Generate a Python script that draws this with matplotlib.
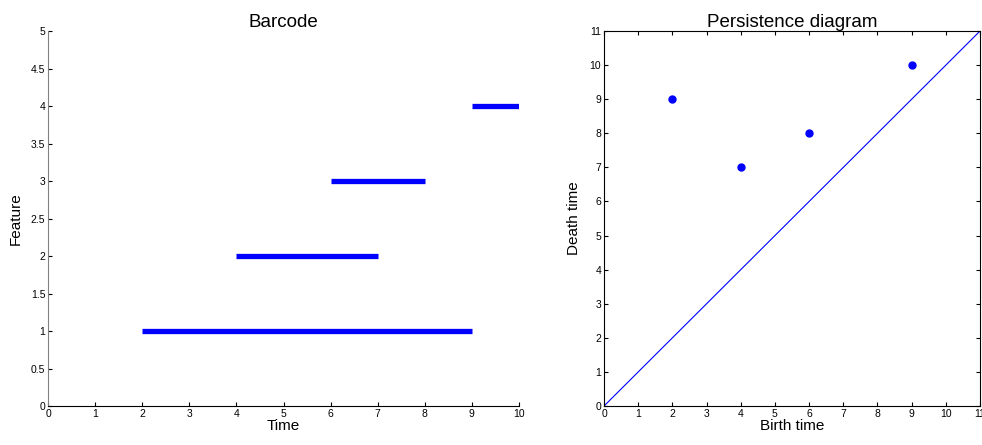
import matplotlib
matplotlib.use('Agg')
import matplotlib.pyplot as plt

plt.rcParams['font.family'] = ['Liberation Sans', 'DejaVu Sans']

# intervals of each feature: birth, death, feature index
births = [2, 4, 6, 9]
deaths = [9, 7, 8, 10]
features = [1, 2, 3, 4]

fig = plt.figure(figsize=(9.82, 4.45), dpi=100)

# barcode
ax1 = fig.add_axes([0.0489, 0.0876, 0.4796, 0.8427])
ax1.hlines(features, births, deaths, colors='blue', linewidth=3.8)
ax1.set_xlim(0, 10)
ax1.set_ylim(0, 5)
ax1.set_xticks(range(0, 11))
ax1.set_yticks([0, 0.5, 1, 1.5, 2, 2.5, 3, 3.5, 4, 4.5, 5])
ax1.set_yticklabels(['0', '0.5', '1', '1.5', '2', '2.5', '3', '3.5', '4', '4.5', '5'])
ax1.spines['top'].set_visible(False)
ax1.spines['right'].set_visible(False)
ax1.spines['left'].set_color('#808080')
ax1.tick_params(direction='in', length=3, labelsize=7.5, pad=2)
ax1.set_title('Barcode', fontsize=13.5, pad=3)
ax1.set_xlabel('Time', fontsize=11, labelpad=0)
ax1.set_ylabel('Feature', fontsize=11, labelpad=6)

# persistence diagram
ax2 = fig.add_axes([0.6151, 0.0876, 0.3829, 0.8427])
ax2.plot([0, 11], [0, 11], color='blue', linewidth=0.8)
ax2.plot(births, deaths, 'o', color='blue', markersize=5)
ax2.set_xlim(0, 11)
ax2.set_ylim(0, 11)
ax2.set_xticks(range(0, 12))
ax2.set_yticks(range(0, 12))
ax2.tick_params(direction='in', length=3, labelsize=7.5, pad=2,
                top=True, right=True)
ax2.set_title('Persistence diagram', fontsize=13.5, pad=3)
ax2.set_xlabel('Birth time', fontsize=11, labelpad=0)
ax2.set_ylabel('Death time', fontsize=11, labelpad=6)

fig.savefig('out.png', dpi=100)
